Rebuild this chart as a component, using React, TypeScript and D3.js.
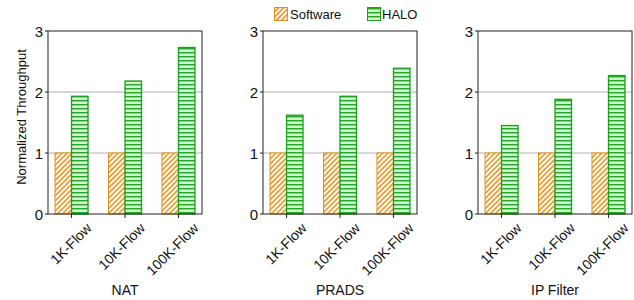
import React from "react";
import * as d3 from "d3";

const panels = ["NAT", "PRADS", "IP Filter"];
const categories = ["1K-Flow", "10K-Flow", "100K-Flow"];
const seriesNames = ["Software", "HALO"];
const softwareValues = [
  [1, 1, 1],
  [1, 1, 1],
  [1, 1, 1],
];
const haloValues = [
  [1.93, 2.18, 2.73],
  [1.62, 1.93, 2.39],
  [1.45, 1.88, 2.27],
];
const yTicks = [0, 1, 2, 3];

const W = 634;
const H = 300;
const panelLefts = [48, 263, 478];
const panelW = 154;
const top = 31;
const bottom = 214;
const barW = 16.5;
const FONT = "Arial, 'Liberation Sans', sans-serif";

export default function App() {
  const y = d3.scaleLinear().domain([0, 3]).range([bottom, top]);
  return (
    <svg width={W} height={H} style={{ position: "absolute", left: 0, top: 0 }} fontFamily={FONT}>
      <defs>
        <pattern id="swPat" patternUnits="userSpaceOnUse" width="3.6" height="3.6" patternTransform="rotate(45)">
          <rect width="3.6" height="3.6" fill="#ffffff" />
          <line x1="1" y1="0" x2="1" y2="3.6" stroke="#e39a2a" strokeWidth="1.7" />
        </pattern>
        <pattern id="haloPat" patternUnits="userSpaceOnUse" width="4" height="4">
          <rect width="4" height="4" fill="#d4f0d4" />
          <rect y="0" width="4" height="1.4" fill="#22a822" />
        </pattern>
      </defs>
      {panels.map((name, pi) => {
        const left = panelLefts[pi];
        const right = left + panelW;
        const x = d3.scalePoint<string>().domain(categories).range([left, right]).padding(0.44);
        return (
          <g key={name}>
            {yTicks.filter((t) => t > 0 && t < 3).map((t) => (
              <line key={t} x1={left} x2={right} y1={y(t)} y2={y(t)} stroke="#b0b0b0" strokeWidth={1} />
            ))}
            {categories.map((c, ci) => {
              const cx = x(c)!;
              const sv = softwareValues[pi][ci];
              const hv = haloValues[pi][ci];
              return (
                <g key={c}>
                  <rect x={cx - barW} y={y(sv)} width={barW} height={y(0) - y(sv)} fill="url(#swPat)" stroke="#d8921e" strokeWidth={1} />
                  <rect x={cx} y={y(hv)} width={barW} height={y(0) - y(hv)} fill="url(#haloPat)" stroke="#1c9e1c" strokeWidth={1.3} />
                </g>
              );
            })}
            <rect x={left} y={top} width={panelW} height={bottom - top} fill="none" stroke="#222" strokeWidth={1} />
            {yTicks.map((t) => (
              <g key={t}>
                <line x1={left - 3} x2={left} y1={y(t)} y2={y(t)} stroke="#222" />
                <text x={left - 5} y={y(t) + 5.5} textAnchor="end" fontSize={15} fill="#111">{t}</text>
              </g>
            ))}
            {categories.map((c) => {
              const cx = x(c)!;
              return (
                <g key={c}>
                  <line x1={cx} x2={cx} y1={bottom} y2={bottom + 4} stroke="#222" />
                  <text transform={`translate(${cx + 21},${bottom + 15}) rotate(-45)`} textAnchor="end" fontSize={14} fill="#111">{c}</text>
                </g>
              );
            })}
            <text x={x(categories[1])!} y={295} textAnchor="middle" fontSize={14} fill="#111">{name}</text>
          </g>
        );
      })}
      <text transform="translate(26,117) rotate(-90)" textAnchor="middle" fontSize={13} fill="#111">Normalized Throughput</text>
      <g>
        <rect x={274.5} y={7.5} width={13} height={13} fill="url(#swPat)" stroke="#d8921e" />
        <text x={290} y={19} fontSize={13} fill="#111">{seriesNames[0]}</text>
        <rect x={367.5} y={7.5} width={13} height={13} fill="url(#haloPat)" stroke="#1c9e1c" />
        <text x={382} y={19} fontSize={13} fill="#111">{seriesNames[1]}</text>
      </g>
    </svg>
  );
}
